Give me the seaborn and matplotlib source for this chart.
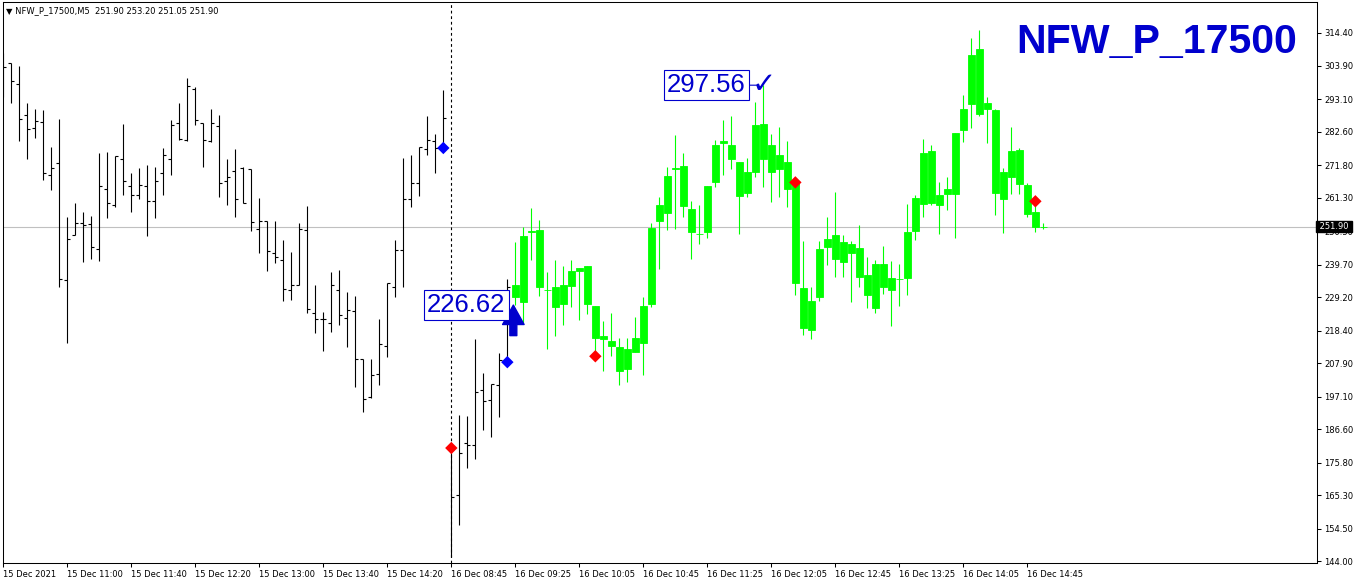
import matplotlib
matplotlib.use('Agg')
import matplotlib.pyplot as plt
import matplotlib.transforms as mtransforms
import numpy as np
import pandas as pd
import seaborn as sns

# chart data (NFW_P_17500, M5)
symbol = 'NFW_P_17500'
timeframe = 'M5'

open_ = [307.3, 304.6, 297.9, 287.8, 283.7, 285.7, 268.5, 272.4, 234.7, 249.3,
         253.0, 252.8, 244.8, 264.0, 258.8, 273.6, 265.0, 262.0, 265.0, 260.3,
         269.1, 273.6, 285.3, 279.9, 296.2, 285.3, 279.6, 284.4, 266.5, 269.8,
         270.8, 270.6, 251.1, 253.6, 243.3, 241.2, 231.5, 233.2, 250.8, 223.9,
         222.0, 220.7, 231.5, 222.4, 224.8, 209.1, 196.8, 204.4, 213.4, 232.3,
         244.4, 260.7, 266.1, 276.9, 279.5, 277.3, 180.5, 165.3, 182.0, 181.4,
         199.2, 196.0, 200.8, 208.2,
         229.3, 227.7, 250.2, 250.8, 231.6, 232.3, 227.0, 232.8, 237.7, 239.2,
         226.4, 216.6, 215.0, 213.1, 206.0, 211.5, 214.5, 227.0, 253.8, 256.4,
         270.5, 271.5, 257.6, 249.5, 250.3, 266.4, 278.8, 278.3, 272.8, 262.7,
         269.6, 285.0, 269.6, 275.0, 272.8, 266.2, 232.0, 218.7, 229.3, 245.4,
         249.2, 240.6, 246.3, 245.0, 236.3, 225.8, 239.9, 231.6, 235.1, 235.4,
         250.6, 259.3, 276.3, 259.0, 262.5, 262.6, 283.2, 291.6, 309.2, 290.0,
         289.6, 260.9, 268.0, 276.6, 265.4, 256.6, 251.90]
high = [307.8, 304.6, 303.8, 291.7, 289.8, 289.6, 277.5, 286.5, 254.9, 259.4,
        256.6, 255.3, 275.6, 276.0, 274.7, 285.0, 269.1, 270.8, 271.7, 271.3,
        277.3, 286.3, 291.9, 299.9, 296.9, 285.3, 289.8, 287.8, 273.8, 276.9,
        271.1, 270.6, 261.2, 253.6, 253.6, 247.6, 243.9, 253.0, 258.6, 233.0,
        224.4, 237.3, 237.9, 230.8, 229.5, 209.1, 209.1, 222.2, 233.8, 247.6,
        274.1, 275.1, 277.5, 287.6, 281.8, 296.0, 181.4, 191.1, 190.8, 215.6,
        204.6, 201.1, 211.0, 234.9,
        247.1, 251.9, 257.8, 254.1, 237.4, 241.1, 239.2, 241.1, 238.6, 239.2,
        226.4, 221.5, 224.0, 216.1, 216.1, 222.8, 229.1, 253.0, 261.4, 271.3,
        281.5, 275.6, 260.3, 258.9, 265.0, 279.9, 286.3, 287.6, 272.8, 274.1,
        292.2, 297.56, 281.8, 284.2, 279.5, 266.2, 247.3, 232.6, 247.3, 255.1,
        263.1, 249.2, 247.3, 252.4, 242.1, 241.1, 245.7, 240.8, 239.9, 259.2,
        262.1, 280.2, 278.3, 266.3, 267.9, 282.1, 294.4, 312.8, 315.4, 293.7,
        289.9, 270.8, 284.1, 277.3, 266.1, 259.2, 253.20]
low = [293.8, 291.7, 279.6, 273.8, 280.5, 267.0, 263.7, 232.5, 214.5, 249.1,
       240.5, 241.6, 240.7, 254.7, 258.2, 262.2, 256.6, 260.9, 248.9, 254.7,
       262.2, 268.7, 279.9, 279.5, 284.8, 271.3, 279.2, 261.4, 258.8, 254.9,
       259.4, 250.6, 243.5, 237.5, 240.3, 227.8, 228.2, 233.2, 223.9, 217.5,
       211.7, 217.9, 220.1, 213.2, 200.1, 192.1, 196.6, 200.7, 209.9, 229.1,
       232.3, 258.3, 261.8, 275.1, 269.3, 277.3, 145.4, 155.6, 173.9, 176.8,
       186.3, 183.9, 190.6, 208.0,
       226.62, 220.7, 241.1, 229.5, 212.5, 216.6, 220.2, 226.1, 221.8, 223.7,
       210.0, 205.4, 210.2, 200.8, 201.9, 211.5, 203.9, 226.1, 238.3, 250.8,
       251.1, 254.9, 241.4, 246.2, 248.2, 264.8, 268.6, 270.4, 249.5, 261.6,
       268.0, 264.8, 260.0, 261.4, 258.2, 229.9, 216.9, 215.6, 227.8, 239.5,
       235.8, 235.7, 227.7, 232.5, 225.8, 224.2, 230.3, 219.9, 226.4, 230.0,
       247.6, 255.1, 258.9, 249.6, 257.4, 248.3, 279.3, 283.8, 287.7, 279.0,
       255.8, 250.0, 262.5, 262.5, 255.1, 250.3, 251.05]
close = [303.3, 298.8, 286.5, 283.3, 285.9, 269.1, 270.8, 235.1, 248.0, 253.2,
         252.5, 245.2, 265.0, 259.6, 274.7, 266.8, 262.0, 265.4, 260.1, 266.5,
         274.9, 284.6, 280.3, 297.3, 286.3, 279.9, 285.3, 265.9, 268.0, 260.7,
         259.6, 253.4, 253.6, 244.1, 242.0, 231.9, 233.0, 251.1, 225.4, 222.2,
         222.0, 233.0, 223.3, 225.0, 209.1, 196.4, 204.1, 214.0, 233.6, 244.4,
         260.7, 265.9, 277.5, 279.9, 277.3, 286.9, 164.8, 179.0, 181.4, 198.7,
         195.7, 201.1, 208.9, 232.3,
         233.1, 248.9, 250.4, 232.3, 231.4, 226.1, 233.1, 237.6, 238.6, 227.0,
         216.1, 215.8, 213.5, 205.3, 212.4, 216.1, 226.3, 251.6, 258.9, 268.3,
         270.7, 258.7, 250.3, 249.7, 265.0, 278.2, 279.5, 273.6, 261.9, 269.5,
         284.7, 273.6, 278.3, 270.6, 264.0, 233.6, 219.3, 228.0, 244.6, 247.9,
         241.5, 247.0, 243.5, 235.7, 229.9, 239.9, 232.4, 235.3, 234.9, 250.2,
         261.2, 275.7, 259.6, 262.1, 264.1, 282.1, 289.9, 307.3, 288.4, 291.8,
         262.9, 269.5, 276.3, 265.8, 256.1, 251.7, 251.90]
n_history = 64  # bars drawn as black OHLC bars, the rest as green candles

time_labels = ['15 Dec 2021', '15 Dec 11:00', '15 Dec 11:40', '15 Dec 12:20',
               '15 Dec 13:00', '15 Dec 13:40', '15 Dec 14:20', '16 Dec 08:45',
               '16 Dec 09:25', '16 Dec 10:05', '16 Dec 10:45', '16 Dec 11:25',
               '16 Dec 12:05', '16 Dec 12:45', '16 Dec 13:25', '16 Dec 14:05',
               '16 Dec 14:45']
price_ticks = [144.00, 154.50, 165.30, 175.80, 186.60, 197.10, 207.90, 218.40,
               229.20, 239.70, 250.50, 261.30, 271.80, 282.60, 293.10, 303.90,
               314.40]

buy_bars = [55, 63]
buy_prices = [277.3, 208.2]
sell_bars = [56, 74, 99, 129]
sell_prices = [180.5, 210.1, 266.2, 260.1]
day_break = 56
entry_bar, entry_price = 64, 226.62
top_bar, top_price = 95, 297.56

green = '#00ff00'
blue = '#0000cd'

sns.set_theme(style='white')
plt.rcParams['font.family'] = ['DejaVu Sans']

df = pd.DataFrame({'open': open_, 'high': high, 'low': low, 'close': close})
df['bar'] = np.arange(len(df))
old = df.iloc[:n_history]
new = df.iloc[n_history:]

fig = plt.figure(figsize=(13.58, 5.85), dpi=100)
ax = fig.add_axes([2.5 / 1358, 22 / 585, 1314.5 / 1358, 561 / 585])

# old bars: OHLC sticks
ax.vlines(old['bar'], old['low'], old['high'], color='black', lw=0.8)
ax.hlines(old['open'], old['bar'] - 0.38, old['bar'], color='black', lw=0.8)
ax.hlines(old['close'], old['bar'], old['bar'] + 0.38, color='black', lw=0.8)

# new bars: candles (all green)
ax.vlines(new['bar'], new['low'], new['high'], color=green, lw=0.8)
body_lo = np.minimum(new['open'], new['close'])
body_h = (new['close'] - new['open']).abs()
ax.bar(new['bar'], body_h, bottom=body_lo, width=0.8, color=green,
       edgecolor=green, linewidth=0.6, zorder=3)

# last price line and day separator
ax.axhline(close[-1], color='#c0c0c0', lw=0.8, zorder=1)
ax.axvline(day_break, color='black', lw=0.8, ls=(0, (2.5, 2.5)), zorder=2)

# signal diamonds
sns.scatterplot(x=buy_bars, y=buy_prices, marker='D', s=40, color='#0000ff',
                edgecolor='none', ax=ax, zorder=6)
sns.scatterplot(x=sell_bars, y=sell_prices, marker='D', s=40, color='#ff0000',
                edgecolor='none', ax=ax, zorder=6)

# buy arrow + entry label
ax.annotate('', xy=(entry_bar - 0.25, entry_price), xytext=(0, -22),
            textcoords='offset points',
            arrowprops=dict(width=5, headwidth=15.5, headlength=14,
                            color=blue, shrink=0), zorder=7)
ax.annotate(f'{entry_price:.2f}', xy=(entry_bar, entry_price), xytext=(-7, 0),
            textcoords='offset points', ha='right', va='center',
            fontsize=18.5, color=blue, family='Liberation Sans',
            bbox=dict(boxstyle='square,pad=0.12', fc='white', ec=blue, lw=0.8),
            zorder=8)

# top label with check mark
ax.annotate(f'{top_price:.2f}', xy=(top_bar - 0.8, top_price), xytext=(-8, 0),
            textcoords='offset points', ha='right', va='center',
            fontsize=18.5, color=blue, family='Liberation Sans',
            bbox=dict(boxstyle='square,pad=0.12', fc='white', ec=blue, lw=0.8),
            arrowprops=dict(arrowstyle='-', color=blue, lw=0.8,
                            shrinkA=0, shrinkB=0), zorder=8)
ax.text(top_bar, top_price, '\u2713', color=blue, fontsize=21,
        ha='center', va='center', fontweight='bold', zorder=8)

# axes, ticks
ax.set_xlim(-0.1, 164.2)
ax.set_ylim(143.4, 324.4)
ax.yaxis.tick_right()
ax.set_yticks(price_ticks)
ax.set_yticklabels([f'{v:.2f}' for v in price_ticks])
ax.set_xticks(np.arange(len(time_labels)) * 8)
ax.set_xticklabels(time_labels, ha='left')
ax.tick_params(axis='both', which='both', direction='out', length=3,
               width=0.75, color='black', labelsize=6.0, labelcolor='black',
               pad=2)
ax.tick_params(axis='y', right=True, left=False)
ax.tick_params(axis='x', bottom=True)
for sp in ax.spines.values():
    sp.set_color('black')
    sp.set_linewidth(0.75)
ax.grid(False)
ax.set_facecolor('white')

# last price tag on the price scale
tag_tr = mtransforms.blended_transform_factory(ax.transAxes, ax.transData)
ax.text(1.0, close[-1], f' {close[-1]:.2f} ', transform=tag_tr, ha='left',
        va='center', fontsize=6.0, color='white', clip_on=False, zorder=10,
        bbox=dict(boxstyle='square,pad=0.15', fc='black', ec='black'))

# header and symbol title
ax.text(0.003, 0.985,
        f'\u25bc {symbol},{timeframe}  {open_[-1]:.2f} {high[-1]:.2f} '
        f'{low[-1]:.2f} {close[-1]:.2f}',
        transform=ax.transAxes, ha='left', va='center', fontsize=6.0,
        color='black')
ax.text(0.9848, 0.9287, symbol, transform=ax.transAxes, ha='right',
        va='center', fontsize=29.6, fontweight='bold', color=blue,
        family='Liberation Sans')

fig.savefig('out.png', dpi=100, facecolor='white')
